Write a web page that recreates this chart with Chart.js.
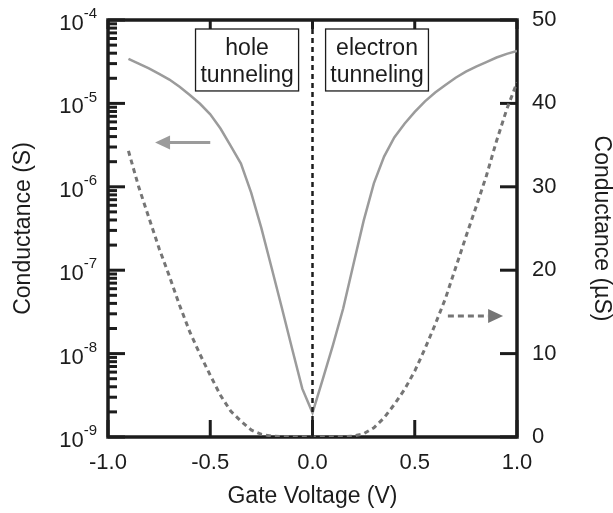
<!DOCTYPE html>
<html>
<head>
<meta charset="utf-8">
<title>Conductance vs gate voltage</title>
<script src="https://cdn.jsdelivr.net/npm/chart.js@4.4.1/dist/chart.umd.min.js"></script>
<style>
  html, body { margin: 0; padding: 0; background: #fff; }
  #wrap { width: 613px; height: 513px; }
</style>
</head>
<body>
<div id="wrap"><canvas id="chart" width="613" height="513"></canvas></div>
<script>
// Gate sweep (V)
const gateVoltage = [
  -0.90, -0.85, -0.80, -0.75, -0.70, -0.65, -0.60, -0.55, -0.50, -0.45,
  -0.40, -0.35, -0.30, -0.25, -0.20, -0.15, -0.10, -0.05, 0.00, 0.05,
  0.10, 0.15, 0.20, 0.25, 0.30, 0.35, 0.40, 0.45, 0.50, 0.55,
  0.60, 0.65, 0.70, 0.75, 0.80, 0.85, 0.90, 0.95, 1.00
];
// Conductance (uS)
const conductanceMicroS = [
  34.3, 30.0, 26.3, 22.6, 19.3, 15.8, 12.6, 9.9, 7.4, 5.0,
  3.1, 1.9, 0.85, 0.32, 0.107, 0.0355, 0.0115, 0.0038, 0.00195, 0.0049,
  0.0126, 0.0347, 0.117, 0.39, 1.1, 2.3, 3.9, 5.7, 7.9, 10.6,
  13.5, 16.6, 20.3, 24.0, 27.6, 31.3, 35.5, 39.3, 42.5
];

// Axis ticks
const voltageTicks = [-1.0, -0.5, 0.0, 0.5, 1.0];
const logDecades = [-9, -8, -7, -6, -5, -4];
const linearTicks = [0, 10, 20, 30, 40, 50];
const regionLabels = [['hole', 'tunneling'], ['electron', 'tunneling']];

const FONT = '"Liberation Sans", Arial, Helvetica, sans-serif';
const INK = '#1c1c1c';
const SOLID_GRAY = '#9b9b9b';
const DASH_GRAY = '#757575';

const logPoints = gateVoltage.map((v, i) => ({ x: v, y: conductanceMicroS[i] * 1e-6 }));
const linPoints = gateVoltage.map((v, i) => ({ x: v, y: conductanceMicroS[i] }));

function line(ctx, x1, y1, x2, y2) {
  ctx.beginPath();
  ctx.moveTo(x1, y1);
  ctx.lineTo(x2, y2);
  ctx.stroke();
}

function arrowHead(ctx, tipX, y, dir, color) {
  // dir = -1 points left, +1 points right
  ctx.fillStyle = color;
  ctx.beginPath();
  ctx.moveTo(tipX, y);
  ctx.lineTo(tipX - dir * 15, y - 7);
  ctx.lineTo(tipX - dir * 15, y + 7);
  ctx.closePath();
  ctx.fill();
}

// no extra room for the end labels, the frame sets the plot box
function noEdgePadding(scale) {
  scale.paddingTop = 0;
  scale.paddingBottom = 0;
  scale.paddingLeft = 0;
  scale.paddingRight = 0;
}

// Frame with inward ticks, drawn under the curves
const framePlugin = {
  id: 'frame',
  beforeDatasetsDraw(chart) {
    const { ctx, chartArea: a, scales } = chart;
    const x = scales.x, yl = scales.yLog, yr = scales.yLin;
    ctx.save();
    ctx.strokeStyle = INK;
    ctx.lineCap = 'butt';

    // left decade ticks + minor ticks
    ctx.lineWidth = 3;
    logDecades.forEach(d => {
      line(ctx, a.left, yl.getPixelForValue(Math.pow(10, d)), a.left + 17, yl.getPixelForValue(Math.pow(10, d)));
      if (d < -4) {
        for (let m = 2; m <= 9; m++) {
          const py = yl.getPixelForValue(m * Math.pow(10, d));
          line(ctx, a.left, py, a.left + 9, py);
        }
      }
    });

    // right ticks
    linearTicks.forEach(t => {
      const py = yr.getPixelForValue(t);
      line(ctx, a.right, py, a.right - 17, py);
    });

    // bottom and top ticks
    voltageTicks.forEach(t => {
      const px = x.getPixelForValue(t);
      line(ctx, px, a.bottom, px, a.bottom - 17);
      line(ctx, px, a.top, px, a.top + 9);
    });

    ctx.lineWidth = 3.5;
    ctx.strokeRect(a.left, a.top, a.right - a.left, a.bottom - a.top);
    ctx.restore();
  },
  afterDatasetsDraw(chart) {
    const { ctx, chartArea: a, scales } = chart;
    const x = scales.x, yl = scales.yLog, yr = scales.yLin;
    ctx.save();

    // zero gate voltage marker
    ctx.strokeStyle = INK;
    ctx.lineWidth = 2.5;
    ctx.setLineDash([5, 4]);
    const x0 = x.getPixelForValue(0);
    line(ctx, x0, a.top, x0, a.bottom);

    // arrow toward the log axis
    ctx.setLineDash([]);
    ctx.strokeStyle = SOLID_GRAY;
    ctx.lineWidth = 3;
    const ya = yl.getPixelForValue(3.4e-6);
    const la0 = x.getPixelForValue(-0.50), la1 = x.getPixelForValue(-0.77);
    line(ctx, la0, ya, la1 + 12, ya);
    arrowHead(ctx, la1, ya, -1, SOLID_GRAY);

    // dashed arrow toward the linear axis
    ctx.strokeStyle = DASH_GRAY;
    ctx.setLineDash([6, 4]);
    const yb = yr.getPixelForValue(14.5);
    const ra0 = x.getPixelForValue(0.662), ra1 = x.getPixelForValue(0.932);
    line(ctx, ra0, yb, ra1 - 15, yb);
    ctx.setLineDash([]);
    arrowHead(ctx, ra1, yb, 1, DASH_GRAY);

    // region labels
    const boxes = [[-0.572, -0.068], [0.064, 0.567]];
    const bTop = yl.getPixelForValue(7.8e-5);
    const bBot = yl.getPixelForValue(1.41e-5);
    ctx.font = '23px ' + FONT;
    ctx.textAlign = 'center';
    ctx.textBaseline = 'alphabetic';
    boxes.forEach((b, i) => {
      const bx0 = x.getPixelForValue(b[0]), bx1 = x.getPixelForValue(b[1]);
      ctx.fillStyle = '#fff';
      ctx.fillRect(bx0, bTop, bx1 - bx0, bBot - bTop);
      ctx.strokeStyle = INK;
      ctx.lineWidth = 1.3;
      ctx.strokeRect(bx0, bTop, bx1 - bx0, bBot - bTop);
      ctx.fillStyle = INK;
      const cx = (bx0 + bx1) / 2;
      ctx.fillText(regionLabels[i][0], cx, bTop + 26);
      ctx.fillText(regionLabels[i][1], cx, bTop + 53);
    });

    // log-axis labels as 10 with a raised exponent
    ctx.textAlign = 'right';
    ctx.textBaseline = 'middle';
    const rightEdge = a.left - 11;
    logDecades.forEach(d => {
      const py = yl.getPixelForValue(Math.pow(10, d));
      const exp = String(d);
      ctx.font = '15px ' + FONT;
      const ew = ctx.measureText(exp).width;
      ctx.fillText(exp, rightEdge, py - 6);
      ctx.font = '22px ' + FONT;
      ctx.fillText('10', rightEdge - ew, py + 4);
    });
    ctx.restore();
  }
};

const ctx = document.getElementById('chart').getContext('2d');
new Chart(ctx, {
  type: 'line',
  data: {
    datasets: [
      {
        label: 'Conductance (S)',
        data: logPoints,
        yAxisID: 'yLog',
        borderColor: SOLID_GRAY,
        borderWidth: 2.5,
        pointRadius: 0,
        tension: 0,
        fill: false
      },
      {
        label: 'Conductance (uS)',
        data: linPoints,
        yAxisID: 'yLin',
        borderColor: DASH_GRAY,
        borderWidth: 3,
        borderDash: [5, 4],
        pointRadius: 0,
        tension: 0,
        fill: false
      }
    ]
  },
  options: {
    responsive: false,
    animation: false,
    devicePixelRatio: 1,
    layout: { padding: { top: 20, left: 0, right: 0, bottom: 0 } },
    plugins: {
      legend: { display: false },
      tooltip: { enabled: false },
      title: { display: false }
    },
    scales: {
      x: {
        type: 'linear',
        position: 'bottom',
        min: -1,
        max: 1,
        grid: { display: false, drawTicks: false },
        border: { display: false },
        ticks: {
          stepSize: 0.5,
          autoSkip: false,
          maxRotation: 0,
          padding: 13,
          color: INK,
          font: { family: FONT, size: 22 },
          callback: v => Number(v).toFixed(1)
        },
        title: {
          display: true,
          text: 'Gate Voltage (V)',
          color: INK,
          font: { family: FONT, size: 23 },
          padding: { top: 0, bottom: 3 }
        },
        afterFit(scale) {
          scale.height = 76;
          noEdgePadding(scale);
        }
      },
      yLog: {
        type: 'logarithmic',
        position: 'left',
        min: 1e-9,
        max: 1e-4,
        grid: { display: false, drawTicks: false },
        border: { display: false },
        ticks: { display: false },
        title: {
          display: true,
          text: 'Conductance (S)',
          color: INK,
          font: { family: FONT, size: 23 },
          padding: { top: 10, bottom: 0 }
        },
        afterFit(scale) {
          scale.width = 108;
          noEdgePadding(scale);
        }
      },
      yLin: {
        type: 'linear',
        position: 'right',
        min: 0,
        max: 50,
        grid: { display: false, drawTicks: false },
        border: { display: false },
        ticks: {
          stepSize: 10,
          padding: 15,
          color: INK,
          font: { family: FONT, size: 22 }
        },
        title: {
          display: true,
          text: 'Conductance (µS)',
          color: INK,
          font: { family: FONT, size: 23, lineHeight: 1 },
          padding: { top: 0, bottom: 0 }
        },
        afterFit(scale) {
          scale.width = 96;
          noEdgePadding(scale);
        }
      }
    }
  },
  plugins: [framePlugin]
});
</script>
</body>
</html>
